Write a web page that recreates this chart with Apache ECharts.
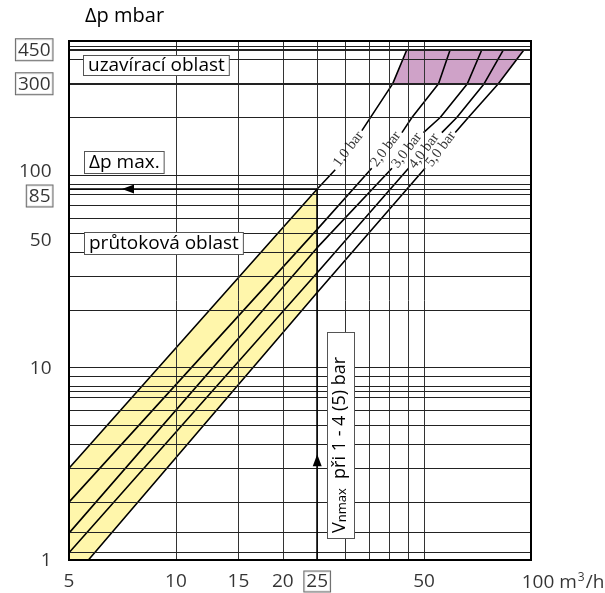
<!DOCTYPE html>
<html><head><meta charset="utf-8">
<script src="https://cdn.jsdelivr.net/npm/echarts@6/dist/echarts.min.js"></script>
<style>html,body{margin:0;padding:0;background:#fff}#c{width:605px;height:593px}</style>
</head><body><div id="c"></div>
<script>
// ---- data ----
const xTicks = [5, 10, 15, 20, 25, 50, 100];
const xBoxed = [25];
const yTicks = [1, 10, 50, 85, 100, 300, 450];
const yBoxed = [85, 300, 450];
const xGrid = [10, 15, 20, 25, 30, 35, 40, 45, 50];
const yGrid = [1.1, 1.4, 2, 3, 4, 5, 6, 7, 7.5, 8, 9, 10, 20, 30, 40, 50, 60, 70, 80, 85, 90, 100, 200, 300, 400, 450, 470];
const yGridBold = [300, 450];

const barNames = ['1,0 bar', '2,0 bar', '3,0 bar', '4,0 bar', '5,0 bar'];
const bar1Low  = [[5, 3.0], [25, 85], [28.1, 107]];
const bar1High = [[33.4, 171], [40.8, 300], [44.7, 450]];
const bar2Low  = [[5, 2.0], [25, 52.4], [35.6, 109]];
const bar2High = [[43.3, 167], [46.2, 200], [54.9, 300], [59.2, 450]];
const bar3Low  = [[5, 1.38], [25, 42.1], [40.6, 109]];
const bar3High = [[49.8, 167], [55.5, 200], [66.2, 300], [72.7, 450]];
const bar4Low  = [[5, 1.09], [25, 31.2], [45.2, 109]];
const bar4High = [[56.1, 167], [61.8, 200], [73.8, 300], [83.6, 450]];
const bar5Low  = [[5.67, 1], [25, 24.6], [50.3, 109]];
const bar5High = [[61.2, 167], [66.6, 200], [80.9, 300], [95.6, 450]];
const barLabelAt = [[30.6, 137], [39.0, 137], [44.7, 135], [50.0, 134], [55.7, 137]];

const flowArea = [[5, 1], [5, 3.0], [25, 85], [25, 24.6], [5.67, 1]];
const closeArea = [[40.8, 300], [44.7, 450], [95.6, 450], [80.9, 300]];

const qMax = 25;      // m3/h
const dpMax = 85;     // mbar
const arrowUpAt = 3.3;
const arrowLeftAt = 7.33;

// ---- styles ----
const SANS = '"Open Sans", "Noto Sans", sans-serif';
const SERIF = '"Liberation Serif", "DejaVu Serif", serif';
const yLabelShift = {100: -4, 85: 7, 50: 7};

const lows = [bar1Low, bar2Low, bar3Low, bar4Low, bar5Low];
const highs = [bar1High, bar2High, bar3High, bar4High, bar5High];

function polygonSeries(pts, color) {
  return {
    type: 'custom', z: 1, silent: true, clip: true,
    data: [0],
    renderItem: function (params, api) {
      return {
        type: 'polygon',
        shape: {points: pts.map(p => api.coord(p))},
        style: {fill: color, stroke: 'none'}
      };
    }
  };
}

const gridLines = [];
xGrid.forEach(v => gridLines.push({xAxis: v, lineStyle: {color: '#333', width: 1, type: 'solid'}}));
yGrid.forEach(v => gridLines.push({yAxis: v, lineStyle: {color: '#222', width: yGridBold.includes(v) ? 2 : 1, type: 'solid'}}));

const series = [
  polygonSeries(flowArea, '#fff6ab'),
  polygonSeries(closeArea, '#cfa2c8'),
  {
    type: 'line', z: 2, data: [], symbol: 'none', silent: true,
    markLine: {silent: true, symbol: ['none', 'none'], label: {show: false}, animation: false, data: gridLines}
  },
  {
    type: 'line', z: 4, data: [], symbol: 'none', silent: true,
    markLine: {
      silent: true, animation: false, label: {show: false},
      symbol: ['none', 'triangle'], symbolSize: [9, 12],
      lineStyle: {color: '#000', width: 1.5, type: 'solid'},
      data: [
        [{coord: [qMax, 1]}, {coord: [qMax, arrowUpAt]}],
        [{coord: [qMax, dpMax]}, {coord: [arrowLeftAt, dpMax]}]
      ]
    }
  },
  {
    type: 'line', z: 4, data: [], symbol: 'none', silent: true,
    markLine: {
      silent: true, animation: false, label: {show: false},
      symbol: ['none', 'none'],
      lineStyle: {color: '#000', width: 1.5, type: 'solid'},
      data: [
        [{coord: [qMax, arrowUpAt]}, {coord: [qMax, dpMax]}],
        [{coord: [arrowLeftAt, dpMax]}, {coord: [5, dpMax]}]
      ]
    }
  }
];
lows.concat(highs).forEach(d => series.push({
  type: 'line', z: 3, data: d, symbol: 'none', silent: true, animation: false,
  lineStyle: {color: '#000', width: 1.6}
}));
// pressure labels
series.push({
  type: 'scatter', z: 5, clip: false, symbolSize: 1, itemStyle: {color: 'rgba(0,0,0,0)'},
  data: barLabelAt.map((p, i) => ({value: p, name: barNames[i]})),
  label: {show: true, position: 'inside', formatter: p => p.name, rotate: 53,
    fontFamily: SERIF, fontSize: 14.5, color: '#000'}
});
// y tick labels
series.push({
  type: 'scatter', z: 5, clip: false, symbolSize: 1, itemStyle: {color: 'rgba(0,0,0,0)'},
  data: yTicks.map(v => ({value: [5, v], label: {offset: [0, yLabelShift[v] || 0]}})),
  label: {show: true, position: 'left', distance: 16, color: '#000',
    formatter: p => yBoxed.includes(p.value[1]) ? `{box|${p.value[1]}}` : `{n|${p.value[1]}}`,
    rich: {
      n: {fontFamily: SANS, fontSize: 19, color: '#000', padding: [1, 1, 0, 1]},
      box: {fontFamily: SANS, fontSize: 19, color: '#000', borderColor: '#444', borderWidth: 1, padding: [2, 2, 0, 2], backgroundColor: '#fff'}
    }}
});
// x tick labels
series.push({
  type: 'scatter', z: 5, clip: false, symbolSize: 1, itemStyle: {color: 'rgba(0,0,0,0)'},
  data: xTicks.map(v => ({value: [v, 1], label: v === 100 ? {offset: [32, 0]} : {}})),
  label: {show: true, position: 'bottom', distance: 11, color: '#000',
    formatter: p => {
      const v = p.value[0];
      if (v === 100) return `{n|100 m}{sup|3}{n|/h}`;
      return xBoxed.includes(v) ? `{box|${v}}` : `{n|${v}}`;
    },
    rich: {
      n: {fontFamily: SANS, fontSize: 19, color: '#000', padding: [1, 1, 0, 1]},
      sup: {fontFamily: SANS, fontSize: 12, color: '#000', padding: [0, 0, 9, 0]},
      box: {fontFamily: SANS, fontSize: 19, color: '#000', borderColor: '#444', borderWidth: 1, padding: [1, 2, 0, 2], backgroundColor: '#fff'}
    }}
});

const boxStyle = {fill: '#000', font: '19px ' + SANS, backgroundColor: '#fff', borderColor: '#555', borderWidth: 1};

const option = {
  animation: false,
  backgroundColor: '#fff',
  grid: {left: 69, top: 41, width: 462, height: 519, show: true, borderColor: '#000', borderWidth: 2, backgroundColor: 'transparent', z: 6},
  xAxis: {type: 'log', logBase: 10, min: 5, max: 100, axisLine: {show: false}, axisTick: {show: false}, axisLabel: {show: false}, splitLine: {show: false}, minorSplitLine: {show: false}},
  yAxis: {type: 'log', logBase: 10, min: 1, max: 500, axisLine: {show: false}, axisTick: {show: false}, axisLabel: {show: false}, splitLine: {show: false}, minorSplitLine: {show: false}},
  graphic: [
    {type: 'text', z: 100, left: 85, top: 6, style: {text: 'Δp mbar', fill: '#000', font: '20px ' + SANS}},
    {type: 'text', z: 100, x: 84, y: 56, style: Object.assign({text: 'uzavírací oblast', padding: [0, 4, 0, 4]}, boxStyle)},
    {type: 'text', z: 100, x: 85, y: 152, style: Object.assign({text: 'Δp max.', padding: [1, 4, 1, 4]}, boxStyle)},
    {type: 'text', z: 100, x: 85, y: 233, style: Object.assign({text: 'průtoková oblast', padding: [1, 4, 1, 4]}, boxStyle)},
    {type: 'text', z: 100, x: 341, y: 435.5, rotation: Math.PI / 2,
      style: {text: '{m|V}{s|nmax}{m|  při 1 - 4 (5) bar}', align: 'center', verticalAlign: 'middle',
        backgroundColor: '#fff', borderColor: '#555', borderWidth: 1, padding: [3, 24, 1, 5],
        rich: {m: {fontFamily: SANS, fontSize: 18, fill: '#000', padding: [0, 0, 4, 0]},
               s: {fontFamily: SANS, fontSize: 13, fill: '#000'}}}}
  ],
  series: series
};

const chart = echarts.init(document.getElementById('c'), null, {renderer: 'canvas'});
chart.setOption(option);
</script>
</body></html>
